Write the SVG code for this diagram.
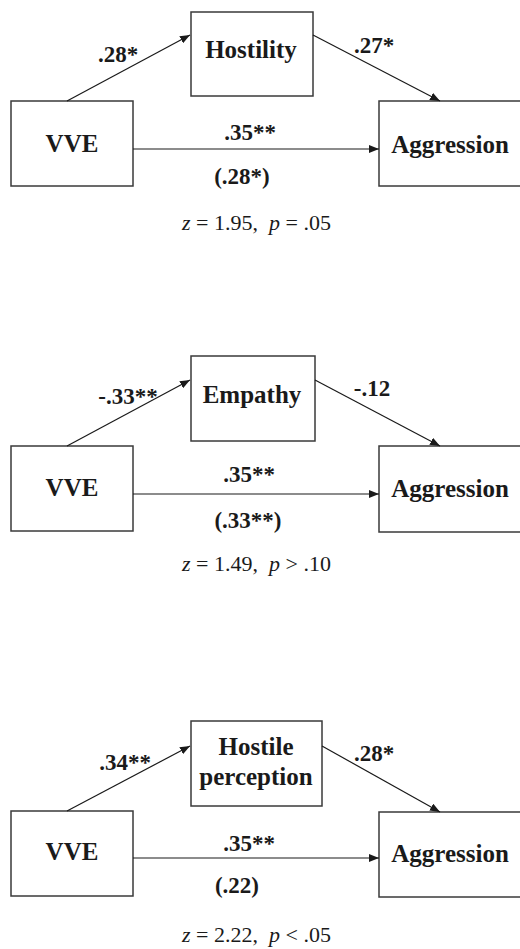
<svg xmlns="http://www.w3.org/2000/svg" width="520" height="949" viewBox="0 0 520 949">
<style>
.box{fill:#fff;stroke:#3a3a3a;stroke-width:1.5}
.node{font-family:"Liberation Serif","Times New Roman",serif;font-weight:bold;font-size:25px;fill:#1a1a1a;text-anchor:middle}
.lbl{font-family:"Liberation Serif","Times New Roman",serif;font-weight:bold;font-size:23px;fill:#1a1a1a;text-anchor:middle}
.stat{font-family:"Liberation Serif","Times New Roman",serif;font-size:22px;fill:#1a1a1a;white-space:pre}
.conn line{stroke:#1a1a1a;stroke-width:1.2;marker-end:url(#ah)}
</style>
<defs>
<marker id="ah" markerUnits="userSpaceOnUse" markerWidth="10" markerHeight="8" refX="10" refY="4" orient="auto">
<path d="M0,0 L10,4 L0,8 z" fill="#1a1a1a"/>
</marker>
</defs>
<rect width="520" height="949" fill="#fff"/>

<!-- Panel 1 -->
<g id="p1-hostility"><rect class="box" x="191" y="12" width="122" height="84"/><text class="node" x="251" y="58">Hostility</text></g>
<g id="p1-vve"><rect class="box" x="11" y="101" width="122" height="85"/><text class="node" x="72" y="152">VVE</text></g>
<g id="p1-aggression"><rect class="box" x="379" y="101" width="145" height="85"/><text class="node" x="450" y="153">Aggression</text></g>
<g id="p1-connectors" class="conn">
<line x1="67" y1="101" x2="190" y2="35"/>
<line x1="313" y1="35" x2="440" y2="101"/>
<line x1="133" y1="149" x2="379" y2="149"/>
</g>
<g id="p1-labels">
<text class="lbl" x="118" y="62">.28*</text>
<text class="lbl" x="374" y="53">.27*</text>
<text class="lbl" x="250" y="140">.35**</text>
<text class="lbl" x="242" y="184">(.28*)</text>
<text class="stat" x="182" y="230"><tspan font-style="italic">z</tspan> = 1.95,  <tspan font-style="italic">p</tspan> = .05</text>
</g>

<!-- Panel 2 -->
<g id="p2-empathy"><rect class="box" x="191" y="356" width="124" height="85"/><text class="node" x="252" y="403">Empathy</text></g>
<g id="p2-vve"><rect class="box" x="11" y="446" width="122" height="85"/><text class="node" x="72" y="496">VVE</text></g>
<g id="p2-aggression"><rect class="box" x="379" y="446" width="145" height="86"/><text class="node" x="450" y="497">Aggression</text></g>
<g id="p2-connectors" class="conn">
<line x1="67" y1="446" x2="190" y2="380"/>
<line x1="315" y1="380" x2="440" y2="446"/>
<line x1="133" y1="494" x2="379" y2="494"/>
</g>
<g id="p2-labels">
<text class="lbl" x="128" y="404">-.33**</text>
<text class="lbl" x="372" y="396">-.12</text>
<text class="lbl" x="249" y="482">.35**</text>
<text class="lbl" x="248" y="528">(.33**)</text>
<text class="stat" x="182" y="571"><tspan font-style="italic">z</tspan> = 1.49,  <tspan font-style="italic">p</tspan> &gt; .10</text>
</g>

<!-- Panel 3 -->
<g id="p3-hostile-perception"><rect class="box" x="191" y="721" width="131" height="85"/><text class="node" x="256" y="755">Hostile</text><text class="node" x="256" y="785">perception</text></g>
<g id="p3-vve"><rect class="box" x="11" y="811" width="122" height="85"/><text class="node" x="72" y="860">VVE</text></g>
<g id="p3-aggression"><rect class="box" x="379" y="812" width="145" height="85"/><text class="node" x="450" y="862">Aggression</text></g>
<g id="p3-connectors" class="conn">
<line x1="67" y1="811" x2="190" y2="746"/>
<line x1="322" y1="746" x2="440" y2="812"/>
<line x1="133" y1="858" x2="379" y2="858"/>
</g>
<g id="p3-labels">
<text class="lbl" x="125" y="770">.34**</text>
<text class="lbl" x="374" y="761">.28*</text>
<text class="lbl" x="249" y="851">.35**</text>
<text class="lbl" x="237" y="893">(.22)</text>
<text class="stat" x="182" y="942"><tspan font-style="italic">z</tspan> = 2.22,  <tspan font-style="italic">p</tspan> &lt; .05</text>
</g>
</svg>
